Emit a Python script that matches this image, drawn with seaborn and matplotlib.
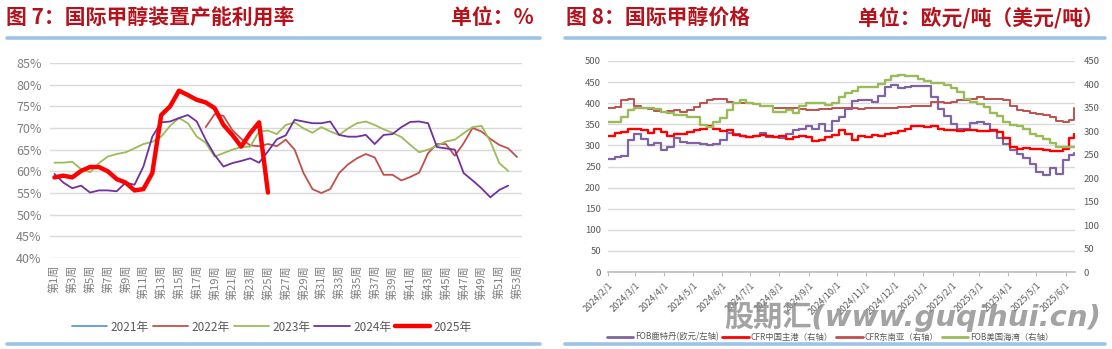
import numpy as np
import pandas as pd
import matplotlib
matplotlib.use("Agg")
import matplotlib.pyplot as plt
from matplotlib.lines import Line2D
import seaborn as sns

sns.set_theme(style="white")
plt.rcParams["font.family"] = ["Noto Sans CJK SC", "DejaVu Sans"]
plt.rcParams["axes.unicode_minus"] = False

# ---------------- 图7：国际甲醇装置产能利用率 (%) ----------------
weeks = list(range(1, 54))
week_labels = [f"第{w}周" for w in weeks]
year_labels = ["2021年", "2022年", "2023年", "2024年", "2025年"]

weeks_2022 = list(range(18, 54))
util_2022 = [70.2, 73.2, 72.8, 69.5, 67.5, 66.0, 65.8, 66.3, 65.8, 67.3,
             65.0, 59.6, 55.9, 55.0, 55.9, 59.6, 61.6, 63.0, 64.0, 63.2,
             59.2, 59.2, 57.9, 58.7, 59.7, 64.2, 66.3, 66.3, 63.6, 66.5,
             70.0, 69.2, 67.5, 66.1, 65.3, 63.3]

weeks_2023 = list(range(1, 53))
util_2023 = [62.0, 62.0, 62.2, 60.5, 59.8, 61.9, 63.4, 64.0, 64.4, 65.3,
             66.3, 66.8, 68.0, 70.5, 72.3, 71.1, 68.0, 66.6, 63.4, 64.2,
             65.0, 65.6, 65.7, 69.2, 69.4, 68.6, 70.7, 71.3, 69.9, 68.9,
             70.2, 69.2, 68.4, 69.9, 71.1, 71.5, 70.7, 69.7, 68.9, 67.9,
             66.1, 64.4, 65.0, 65.9, 66.9, 67.3, 68.8, 70.2, 70.5, 66.9,
             61.9, 60.1]

weeks_2024 = list(range(1, 53))
util_2024 = [59.4, 57.4, 56.1, 56.7, 55.1, 55.6, 55.6, 55.4, 57.4, 56.9,
             61.1, 68.0, 71.3, 71.5, 72.3, 73.0, 71.5, 67.3, 63.8, 61.1,
             61.9, 62.4, 63.0, 62.0, 64.6, 67.4, 68.3, 71.9, 71.5, 71.1,
             71.1, 71.5, 68.4, 68.0, 68.0, 68.4, 66.3, 68.4, 68.6, 70.2,
             71.4, 71.5, 71.1, 65.6, 65.3, 65.0, 59.6, 57.9, 56.1, 54.0,
             55.7, 56.7]

weeks_2025 = list(range(1, 26))
util_2025 = [58.6, 59.0, 58.6, 60.1, 61.0, 61.0, 60.0, 58.2, 57.4, 55.6,
             55.9, 59.6, 73.0, 75.0, 78.6, 77.6, 76.5, 75.9, 74.6, 70.7,
             68.4, 65.7, 68.8, 71.3, 55.1]

# ---------------- 图8：国际甲醇价格 ----------------
price_dates = pd.date_range("2024-02-01", periods=71, freq="7D").append(
    pd.DatetimeIndex(["2025-06-10"]))
fob_rotterdam = [267, 272, 276, 313, 327, 315, 302, 305, 289, 297,
                 317, 309, 306, 305, 303, 302, 303, 312, 329, 326,
                 322, 321, 322, 329, 321, 319, 317, 328, 337, 338,
                 346, 338, 350, 333, 358, 368, 386, 406, 407, 407,
                 402, 416, 439, 443, 436, 439, 441, 441, 440, 415,
                 386, 370, 350, 338, 340, 352, 356, 350, 335, 318,
                 303, 289, 279, 270, 255, 238, 230, 246, 232, 265,
                 277, 281]
cfr_china = [290, 297, 299, 305, 306, 303, 297, 305, 298, 291,
             295, 294, 298, 302, 306, 311, 305, 300, 302, 293,
             290, 287, 290, 292, 290, 288, 289, 284, 287, 289,
             287, 280, 282, 288, 292, 302, 295, 281, 289, 287,
             292, 290, 294, 297, 300, 305, 311, 312, 310, 312,
             305, 302, 302, 300, 302, 302, 301, 301, 303, 298,
             285, 266, 263, 264, 263, 263, 260, 258, 257, 262,
             285, 295]
cfr_sea = [349, 351, 366, 368, 353, 349, 347, 344, 341, 343,
           345, 342, 346, 352, 361, 366, 369, 369, 363, 360,
           360, 360, 358, 354, 353, 350, 349, 349, 349, 347,
           346, 346, 347, 347, 349, 349, 349, 349, 347, 349,
           350, 350, 350, 350, 351, 352, 353, 354, 355, 363,
           362, 360, 363, 366, 367, 370, 373, 370, 369, 369,
           366, 354, 346, 343, 340, 337, 334, 330, 323, 320,
           324, 349]
fob_usgulf = [320, 320, 331, 345, 349, 349, 349, 347, 341, 339,
              334, 334, 330, 330, 313, 310, 320, 328, 345, 360,
              367, 360, 358, 353, 353, 341, 341, 346, 340, 355,
              360, 360, 360, 356, 360, 373, 381, 385, 394, 395,
              395, 400, 410, 418, 420, 417, 417, 412, 408, 404,
              403, 398, 392, 383, 370, 362, 358, 352, 340, 332,
              319, 314, 311, 305, 294, 289, 283, 275, 266, 266,
              266, 266]
price_labels = ["FOB鹿特丹(欧元/左轴)", "CFR中国主港（右轴）",
                "CFR东南亚（右轴）", "FOB美国海湾（右轴）"]

# ---------------- colours ----------------
TITLE_RED = "#B5121B"
RULE_BLUE = "#9DC3E6"
GRID = "#D9D9D9"
TICK_TXT = "#595959"
year_colors = ["#5B9BD5", "#C0504D", "#9BBB59", "#7030A0", "#FF0000"]
price_colors = ["#8064A2", "#FF0000", "#C0504D", "#9BBB59"]

W, H = 1112, 349
fig = plt.figure(figsize=(W / 100, H / 100), dpi=100)


def fx(px):
    return px / W


def fy(py):
    return 1 - py / H


# header titles and blue rules
title_kw = dict(fontsize=15, fontweight="bold", color=TITLE_RED, va="center")
fig.text(fx(6), fy(18), "图 7：国际甲醇装置产能利用率", ha="left", **title_kw)
fig.text(fx(534), fy(18), "单位：%", ha="right", **title_kw)
fig.text(fx(566), fy(18), "图 8：国际甲醇价格", ha="left", **title_kw)
fig.text(fx(1104), fy(18), "单位：欧元/吨（美元/吨）", ha="right", **title_kw)
for x0, x1 in [(7, 540), (565, 1105)]:
    for yy in (37.5, 343.5):
        fig.add_artist(Line2D([fx(x0), fx(x1)], [fy(yy), fy(yy)],
                              transform=fig.transFigure, color=RULE_BLUE, lw=2.6))

# ---------------- left chart ----------------
ax1 = fig.add_axes([fx(50), fy(258), fx(521.5) - fx(50), fy(63) - fy(258)])
series_left = [
    (weeks_2022, util_2022, year_colors[1], 1.3),
    (weeks_2023, util_2023, year_colors[2], 1.3),
    (weeks_2024, util_2024, year_colors[3], 1.3),
    (weeks_2025, util_2025, year_colors[4], 3.2),
]
for wk, vals, col, lw in series_left:
    df = pd.DataFrame({"week": wk, "util": vals})
    sns.lineplot(data=df, x="week", y="util", ax=ax1, color=col, linewidth=lw,
                 legend=False, solid_joinstyle="round", solid_capstyle="round")
ax1.set_xlim(0.5, 53.5)
ax1.set_ylim(40, 85)
ax1.set_yticks(range(40, 90, 5))
ax1.set_yticklabels([f"{v}%" for v in range(40, 90, 5)])
ax1.set_xticks(weeks[::2])
ax1.set_xticklabels(week_labels[::2], rotation=90)
ax1.set_xlabel("")
ax1.set_ylabel("")
ax1.grid(axis="y", color=GRID, lw=1)
ax1.grid(axis="x", visible=False)
for s in ax1.spines.values():
    s.set_visible(False)
ax1.tick_params(axis="y", length=0, pad=6, labelsize=9, labelcolor="#7F7F7F")
ax1.tick_params(axis="x", length=0, pad=5, labelsize=8, labelcolor="#7F7F7F")

left_handles = [Line2D([], [], color=c, lw=(3.2 if i == 4 else 1.3))
                for i, c in enumerate(year_colors)]
fig.legend(left_handles, year_labels, loc="center", bbox_to_anchor=(fx(272), fy(327)),
           ncol=5, frameon=False, fontsize=8.5, handlelength=3.0,
           handletextpad=0.3, columnspacing=0.3, labelcolor=TICK_TXT)

# ---------------- right chart ----------------
ax2 = fig.add_axes([fx(608), fy(272), fx(1075) - fx(608), fy(61) - fy(272)])
ax2r = ax2.twinx()
price_df = pd.DataFrame({"date": price_dates, "rot": fob_rotterdam, "cn": cfr_china,
                         "sea": cfr_sea, "us": fob_usgulf})
sns.lineplot(data=price_df, x="date", y="rot", ax=ax2, color=price_colors[0],
             linewidth=1.6, drawstyle="steps-post", legend=False)
for col, c, lw in [("cn", price_colors[1], 1.7), ("sea", price_colors[2], 1.4),
                   ("us", price_colors[3], 1.7)]:
    sns.lineplot(data=price_df, x="date", y=col, ax=ax2r, color=c, linewidth=lw,
                 drawstyle="steps-post", legend=False)

x_start, x_end = pd.Timestamp("2024-02-01"), pd.Timestamp("2025-06-11")
ax2.set_xlim(x_start, x_end)
ax2.set_ylim(0, 500)
ax2r.set_ylim(0, 450)
ax2.set_yticks(range(0, 501, 50))
ax2r.set_yticks(range(0, 451, 50))
month_ticks = pd.date_range("2024-02-01", "2025-06-01", freq="MS")
ax2.set_xticks(month_ticks)
ax2.set_xticklabels([f"{d.year}/{d.month}/{d.day}" for d in month_ticks])
for lab in ax2.get_xticklabels():
    lab.set_rotation(45)
    lab.set_ha("right")
    lab.set_va("top")
    lab.set_rotation_mode("anchor")
for a in (ax2, ax2r):
    a.set_xlabel("")
    a.set_ylabel("")
    for s in a.spines.values():
        s.set_visible(False)
ax2.spines["bottom"].set_visible(True)
ax2.spines["bottom"].set_color("#BFBFBF")
ax2.grid(axis="y", color=GRID, lw=1)
ax2.grid(axis="x", visible=False)
ax2r.grid(False)
ax2.tick_params(axis="y", length=0, pad=5, labelsize=6.8, labelcolor=TICK_TXT)
ax2r.tick_params(axis="y", length=0, pad=6, labelsize=6.8, labelcolor=TICK_TXT)
ax2.tick_params(axis="x", direction="out", length=3, width=0.8, color="#BFBFBF",
                pad=3, labelsize=6.5, labelcolor=TICK_TXT, bottom=True)

right_handles = [Line2D([], [], color=c, lw=2) for c in price_colors]
fig.legend(right_handles, price_labels, loc="center", bbox_to_anchor=(fx(830), fy(337)),
           ncol=4, frameon=False, fontsize=6.0, handlelength=3.2,
           handletextpad=0.2, columnspacing=0.4, labelcolor=TICK_TXT)

# site watermark
fig.text(fx(913), fy(317), "股期汇(www.guqihui.cn)", ha="center", va="center",
         fontsize=21, fontweight="bold", color="#8C8C8C", alpha=0.8, style="italic",
         family=["DejaVu Sans", "Noto Sans CJK SC"])

fig.savefig("out.png", dpi=100)
